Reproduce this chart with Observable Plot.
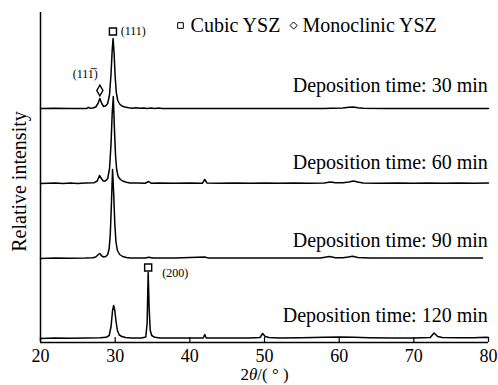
<!DOCTYPE html>
<html>
<head>
<meta charset="utf-8">
<script src="https://cdn.jsdelivr.net/npm/d3@7"></script>
<script src="https://cdn.jsdelivr.net/npm/@observablehq/plot@0.6"></script>
<style>
  html, body { margin: 0; padding: 0; background: #fff; }
  #chart { width: 498px; height: 385px; }
</style>
</head>
<body>
<div id="chart"></div>
<script>
// ---- data (2θ in degrees, intensity in arbitrary units above each trace's baseline) ----
const xTicks = [20, 30, 40, 50, 60, 70, 80];
const seriesNames = ["30 min", "60 min", "90 min", "120 min"];
const seriesOffsets = [234, 159, 84, 4];
const seriesLabels = ["Deposition time: 30 min", "Deposition time: 60 min", "Deposition time: 90 min", "Deposition time: 120 min"];
const seriesLabelY = [257, 180, 102, 27];

const trace30 = [[20,0],[22,0.3],[24,0],[26.2,0],[26.4,1.2],[26.6,0.3],[27.0,0.5],[27.4,1.5],[27.7,5],[27.95,10],[28.2,5],[28.45,2],[28.7,2.5],[29.0,5],[29.25,14],[29.45,35],[29.6,58],[29.72,70],[29.85,56],[30.0,32],[30.15,16],[30.35,8],[30.6,4.5],[30.9,2.5],[31.3,1.5],[31.8,0.8],[32.3,0.3],[32.8,0.7],[33.3,0.2],[33.8,0.6],[34.3,0.1],[34.8,0.5],[35.3,0.1],[35.8,0.5],[36.3,0],[40,0],[50,0],[58,0],[59,0.3],[60.5,0.4],[61.3,1.2],[61.9,1.6],[62.5,0.8],[63.2,0.2],[66,0],[80,0]];
const trace60 = [[20,0],[22,0.4],[23,0],[24,0.4],[25,0],[26,0.4],[27.2,0.8],[27.6,2.5],[27.9,8],[28.15,5],[28.4,2.5],[28.7,2.5],[29.0,5],[29.25,15],[29.45,40],[29.6,70],[29.75,87],[29.9,55],[30.05,28],[30.2,14],[30.4,7],[30.7,4],[31.0,2.5],[31.5,1.2],[32,0.5],[33,0.5],[34,0.3],[34.5,2],[34.8,0.3],[36,0.5],[38,0.3],[40,0.5],[41.7,0.3],[42.0,4],[42.3,0.4],[44,0.3],[46,0.5],[48,0.3],[50,0.5],[52,0.3],[54,0.5],[56,0.3],[58,0.5],[58.8,1.5],[59.5,0.8],[60.5,0.8],[61.3,1.5],[61.9,2.5],[62.5,1.5],[63.2,0.5],[65,0.3],[68,0.5],[70,0.2],[72,0.5],[74,0.3],[76,0.5],[78,0.3],[80,0.4]];
const trace90 = [[20,0],[22,0.4],[24,0.2],[26,0.4],[27.0,0.8],[27.4,1.5],[27.75,4],[27.95,5],[28.2,2.5],[28.45,1.5],[28.75,2],[29.0,4],[29.2,10],[29.35,25],[29.5,55],[29.65,89],[29.8,65],[29.95,35],[30.1,17],[30.3,8],[30.6,4],[31.0,2],[31.5,1],[32,0.5],[34,0.5],[34.5,1.2],[35,0.4],[38,0.5],[42,1.5],[42.5,0.4],[46,0.5],[50,0.6],[54,0.5],[57.5,0.6],[58.7,2],[59.5,0.8],[60.5,0.8],[61.2,1.4],[61.8,2.2],[62.5,1],[64,0.5],[68,0.6],[72,0.4],[76,0.6],[79.2,0.4]];
const trace120 = [[20,0],[22,0.5],[24,0.3],[26,0.6],[28,0.8],[28.8,1.2],[29.2,3],[29.45,12],[29.65,28],[29.8,33],[29.95,28],[30.1,18],[30.3,8],[30.55,3.5],[30.9,2],[31.4,1],[32.2,0.5],[33.5,0.6],[34.1,1.5],[34.28,15],[34.42,66],[34.55,30],[34.7,8],[34.9,3],[35.3,1.2],[36,0.5],[38,0.4],[40,0.6],[41.8,0.5],[42.0,4],[42.2,0.5],[44,0.5],[46,0.4],[48,0.6],[49.4,1],[49.75,5],[50.1,2],[50.6,1],[52,0.6],[55,0.8],[58,1.2],[60,1.4],[62,1.2],[64,0.8],[67,0.6],[70,0.5],[72.2,1],[72.7,5.5],[73.2,2],[73.8,1],[76,0.8],[78,0.8],[79.7,1.2],[80,1]];
const traces = [trace30, trace60, trace90, trace120];

// peak markers and annotations
const cubicMarkers = [[29.7, 311], [34.42, 75]];
const monoMarkers = [[27.95, 252]];
const peakLabels = [["(111)", 30.75, 311], ["(200)", 36.3, 69]];
const monoLabel = ["(111\u0305)", 26.0, 268];
const legendSymbols = [["square", 38.75, 317], ["diamond2", 53.9, 317]];
const legendTexts = [["Cubic YSZ", 40.1, 317], ["Monoclinic YSZ", 55.1, 317]];

// ---- build table ----
const rows = [];
traces.forEach((t, i) => t.forEach(([x, v]) => rows.push({series: seriesNames[i], x, y: v + seriesOffsets[i]})));
const labelRows = seriesLabels.map((s, i) => ({text: s, y: seriesLabelY[i]}));

const font = "\"Liberation Serif\", \"Times New Roman\", \"DejaVu Serif\", serif";

const chart = Plot.plot({
  width: 498,
  height: 385,
  marginLeft: 40,
  marginRight: 10,
  marginTop: 12,
  marginBottom: 43,
  style: {fontFamily: font, background: "#fff", color: "#000", overflow: "visible"},
  x: {domain: [20, 80]},
  y: {domain: [0, 330], axis: null},
  marks: [
    Plot.line(rows, {x: "x", y: "y", z: "series", stroke: "#000", strokeWidth: 1.5, curve: "linear"}),
    Plot.ruleY([0], {stroke: "#000", strokeWidth: 1.5}),
    Plot.ruleX([20], {y1: 0, y2: 330, stroke: "#000", strokeWidth: 1.5}),
    Plot.ruleX(xTicks, {x: d => d, y1: 0, y2: 5, stroke: "#000", strokeWidth: 1.2}),
    Plot.axisX({ticks: xTicks, tickSize: 0, tickPadding: 7, fontSize: 18, fontFamily: font, tickFormat: d => String(d), label: null}),
    Plot.text(["2θ/( ° )"], {frameAnchor: "bottom", lineAnchor: "middle", textAnchor: "middle", dy: 32, fontSize: 17, fontFamily: font}),
    Plot.text(["Relative intensity"], {frameAnchor: "left", textAnchor: "middle", lineAnchor: "middle", dx: -21, dy: 4, rotate: -90, fontSize: 20, fontFamily: font}),
    Plot.text(labelRows, {x: () => 79.9, y: "y", text: "text", textAnchor: "end", fontSize: 20, fontFamily: font}),
    Plot.dot(cubicMarkers, {x: d => d[0], y: d => d[1], symbol: "square", r: 4, stroke: "#000", fill: "#fff", strokeWidth: 1.4}),
    Plot.dot(monoMarkers, {x: d => d[0], y: d => d[1], symbol: "diamond", r: 3.2, stroke: "#000", fill: "#fff", strokeWidth: 1.4}),
    Plot.text(peakLabels, {x: d => d[1], y: d => d[2], text: d => d[0], textAnchor: "start", fontSize: 12, fontFamily: font}),
    Plot.text([monoLabel], {x: d => d[1], y: d => d[2], text: d => d[0], fontSize: 12, fontFamily: font}),
    Plot.dot(legendSymbols, {x: d => d[1], y: d => d[2], symbol: d => d[0], r: 3.2, stroke: "#000", fill: "#fff", strokeWidth: 1}),
    Plot.text(legendTexts, {x: d => d[1], y: d => d[2], text: d => d[0], textAnchor: "start", fontSize: 20, fontFamily: font})
  ]
});

document.getElementById("chart").appendChild(chart);

// italic theta in x label
chart.querySelectorAll("text").forEach(t => {
  if (t.textContent === "2θ/( ° )") {
    t.textContent = "";
    const ns = "http://www.w3.org/2000/svg";
    const a = document.createElementNS(ns, "tspan"); a.textContent = "2";
    const b = document.createElementNS(ns, "tspan"); b.textContent = "θ"; b.setAttribute("font-style", "italic");
    const c = document.createElementNS(ns, "tspan"); c.textContent = "/( ° )";
    t.append(a, b, c);
  }
});
</script>
</body>
</html>
